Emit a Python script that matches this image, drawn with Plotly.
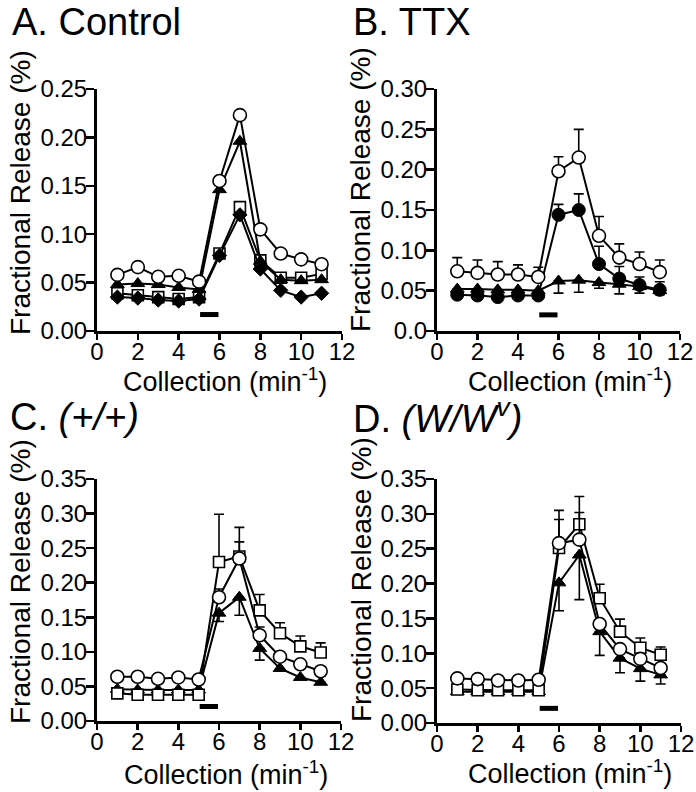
import plotly.graph_objects as go

# ---------------- data ----------------
collection = [1, 2, 3, 4, 5, 6, 7, 8, 9, 10, 11]
x_ticks = [0, 2, 4, 6, 8, 10, 12]

# Panel A: Control
a_circle = [0.058, 0.066, 0.056, 0.057, 0.051, 0.155, 0.223, 0.105, 0.080, 0.074, 0.069]
a_triangle = [0.048, 0.049, 0.048, 0.045, 0.043, 0.146, 0.196, 0.072, 0.053, 0.052, 0.053]
a_square = [0.039, 0.037, 0.035, 0.033, 0.035, 0.080, 0.128, 0.073, 0.055, 0.055, 0.059]
a_diamond = [0.035, 0.034, 0.032, 0.031, 0.033, 0.078, 0.120, 0.064, 0.042, 0.035, 0.039]

# Panel B: TTX
b_open = [0.074, 0.072, 0.070, 0.070, 0.067, 0.198, 0.215, 0.118, 0.091, 0.083, 0.073]
b_open_up = [0.017, 0.016, 0.016, 0.012, 0.012, 0.018, 0.035, 0.024, 0.017, 0.015, 0.015]
b_filled = [0.045, 0.044, 0.042, 0.044, 0.044, 0.144, 0.150, 0.083, 0.065, 0.057, 0.051]
b_filled_up = [0, 0, 0, 0, 0, 0.013, 0.020, 0.022, 0.015, 0.010, 0.010]
b_tri = [0.052, 0.052, 0.051, 0.051, 0.050, 0.062, 0.063, 0.060, 0.058, 0.055, 0.050]
b_tri_down = [0, 0, 0, 0, 0, 0.015, 0.015, 0.007, 0.012, 0.008, 0.005]

# Panel C: (+/+)
c_circle = [0.064, 0.064, 0.061, 0.063, 0.060, 0.179, 0.235, 0.124, 0.093, 0.082, 0.072]
c_circle_up = [0, 0, 0, 0, 0, 0.012, 0.024, 0.012, 0, 0, 0]
c_square = [0.040, 0.038, 0.038, 0.038, 0.038, 0.230, 0.238, 0.160, 0.127, 0.108, 0.099]
c_square_up = [0, 0, 0, 0, 0, 0.069, 0.042, 0.023, 0.015, 0.015, 0.014]
c_tri = [0.046, 0.045, 0.045, 0.045, 0.045, 0.156, 0.179, 0.105, 0.076, 0.063, 0.056]
c_tri_down = [0, 0, 0, 0, 0, 0.012, 0.026, 0.017, 0, 0, 0]

# Panel D: (W/Wv)
d_circle = [0.064, 0.063, 0.061, 0.061, 0.062, 0.258, 0.263, 0.142, 0.106, 0.092, 0.079]
d_circle_up = [0, 0, 0, 0, 0, 0.047, 0.039, 0, 0, 0, 0]
d_square = [0.048, 0.047, 0.047, 0.047, 0.047, 0.251, 0.285, 0.179, 0.131, 0.108, 0.098]
d_square_up = [0, 0, 0, 0, 0, 0.041, 0.040, 0.020, 0.018, 0.014, 0.011]
d_tri = [0.045, 0.045, 0.045, 0.045, 0.045, 0.201, 0.241, 0.131, 0.093, 0.078, 0.069]
d_tri_down = [0, 0, 0, 0, 0, 0.040, 0.064, 0.034, 0.021, 0.018, 0.013]

# stimulus period bar
stim_x = [5.05, 5.95]
stim_level = {"A": 0.017, "B": 0.020, "C": 0.021, "D": 0.021}

# y tick labels
a_yticks = [0, 0.05, 0.10, 0.15, 0.20, 0.25]
a_ytext = ["0.00", "0.05", "0.10", "0.15", "0.20", "0.25"]
b_yticks = [0, 0.05, 0.10, 0.15, 0.20, 0.25, 0.30]
b_ytext = ["0.0", "0.05", "0.10", "0.15", "0.20", "0.25", "0.30"]
cd_yticks = [0, 0.05, 0.10, 0.15, 0.20, 0.25, 0.30, 0.35]
cd_ytext = ["0.00", "0.05", "0.10", "0.15", "0.20", "0.25", "0.30", "0.35"]

# ---------------- figure ----------------
W, H = 696, 792
FONT = "Liberation Sans, Arial, sans-serif"


def px(x):
    return x / W


def py(y):
    return 1 - y / H


fig = go.Figure()

OPEN = dict(color="white", line=dict(color="black", width=1.6))
FILL = dict(color="black", line=dict(color="black", width=1))


def add(series, axis, symbol, style, size, up=None, down=None):
    xa, ya = axis
    tr = dict(
        x=collection, y=series, mode="lines+markers", xaxis=xa, yaxis=ya,
        line=dict(color="black", width=2),
        marker=dict(symbol=symbol, size=size, **style),
        showlegend=False, cliponaxis=False,
    )
    if up is not None or down is not None:
        tr["error_y"] = dict(
            type="data", symmetric=False,
            array=up if up is not None else [0] * len(series),
            arrayminus=down if down is not None else [0] * len(series),
            color="black", thickness=1.6, width=5,
        )
    fig.add_trace(go.Scatter(**tr))


def stim(axis, level):
    xa, ya = axis
    fig.add_trace(go.Scatter(x=stim_x, y=[level, level], mode="lines", xaxis=xa, yaxis=ya,
                             line=dict(color="black", width=5), showlegend=False))


A = ("x", "y")
B = ("x2", "y2")
C = ("x3", "y3")
D = ("x4", "y4")

# Panel A
add(a_square, A, "square", OPEN, 11)
add(a_diamond, A, "diamond", FILL, 11)
add(a_triangle, A, "triangle-up", FILL, 12)
add(a_circle, A, "circle", OPEN, 13)
stim(A, stim_level["A"])

# Panel B
add(b_tri, B, "triangle-up", FILL, 12, down=b_tri_down)
add(b_filled, B, "circle", FILL, 13, up=b_filled_up)
add(b_open, B, "circle", OPEN, 13, up=b_open_up)
stim(B, stim_level["B"])

# Panel C
add(c_tri, C, "triangle-up", FILL, 12, down=c_tri_down)
add(c_square, C, "square", OPEN, 11, up=c_square_up)
add(c_circle, C, "circle", OPEN, 13, up=c_circle_up)
stim(C, stim_level["C"])

# Panel D
add(d_tri, D, "triangle-up", FILL, 12, down=d_tri_down)
add(d_square, D, "square", OPEN, 11, up=d_square_up)
add(d_circle, D, "circle", OPEN, 13, up=d_circle_up)
stim(D, stim_level["D"])


def xaxis(dom, anchor):
    return dict(domain=dom, anchor=anchor, range=[0, 12], tickvals=x_ticks,
                ticktext=[str(v) for v in x_ticks], automargin=False,
                showline=True, linecolor="black", linewidth=3, mirror=False,
                ticks="outside", ticklen=6, tickwidth=2.5, tickcolor="black",
                ticklabelstandoff=-9,
                showgrid=False, zeroline=False,
                tickfont=dict(family=FONT, size=24, color="black"))


def yaxis(dom, anchor, rng, tv, tt):
    return dict(domain=dom, anchor=anchor, range=rng, tickvals=tv, ticktext=tt,
                automargin=False, ticklabelstandoff=-6,
                showline=True, linecolor="black", linewidth=3, mirror=False,
                ticks="outside", ticklen=8, tickwidth=2.5, tickcolor="black",
                showgrid=False, zeroline=False,
                tickfont=dict(family=FONT, size=24, color="black"))


fig.update_layout(
    template="none",
    width=W, height=H, autosize=False,
    margin=dict(l=0, r=0, t=0, b=0, pad=0),
    paper_bgcolor="white", plot_bgcolor="white",
    xaxis=xaxis([px(97), px(342)], "y"),
    yaxis=yaxis([py(331), py(89)], "x", [0, 0.25], a_yticks, a_ytext),
    xaxis2=xaxis([px(437), px(680)], "y2"),
    yaxis2=yaxis([py(331), py(89)], "x2", [0, 0.30], b_yticks, b_ytext),
    xaxis3=xaxis([px(97), px(341)], "y3"),
    yaxis3=yaxis([py(721), py(479)], "x3", [0, 0.35], cd_yticks, cd_ytext),
    xaxis4=xaxis([px(437), px(681)], "y4"),
    yaxis4=yaxis([py(723), py(479)], "x4", [0, 0.35], cd_yticks, cd_ytext),
)

annos = []
titles = [("A. Control", 10, 22), ("B. TTX", 351, 22),
          ("C. <i>(+/+)</i>", 8, 417), ("D. <i>(W/W<sup>v</sup>)</i>", 351, 416)]
for t, x, y in titles:
    annos.append(dict(text=t, x=px(x), y=py(y), xref="paper", yref="paper",
                      xanchor="left", yanchor="middle", showarrow=False,
                      font=dict(family=FONT, size=38, color="black")))

ylabels = [(20, 193), (361, 190), (20, 582), (361, 580)]
for x, y in ylabels:
    annos.append(dict(text="Fractional Release (%)", x=px(x), y=py(y), xref="paper", yref="paper",
                      xanchor="center", yanchor="middle", textangle=-90, showarrow=False,
                      font=dict(family=FONT, size=28, color="black")))

xlabels = [(225, 380), (570, 380), (226, 773), (570, 772)]
for x, y in xlabels:
    annos.append(dict(text="Collection (min<sup>-1</sup>)", x=px(x), y=py(y), xref="paper", yref="paper",
                      xanchor="center", yanchor="middle", showarrow=False,
                      font=dict(family=FONT, size=27, color="black")))

fig.update_layout(annotations=annos)
fig.write_html("out.html",
               config={"displayModeBar": False, "staticPlot": True},
               post_script="document.body.style.margin='0';document.body.style.padding='0';"
                           "document.documentElement.style.overflow='hidden';")
